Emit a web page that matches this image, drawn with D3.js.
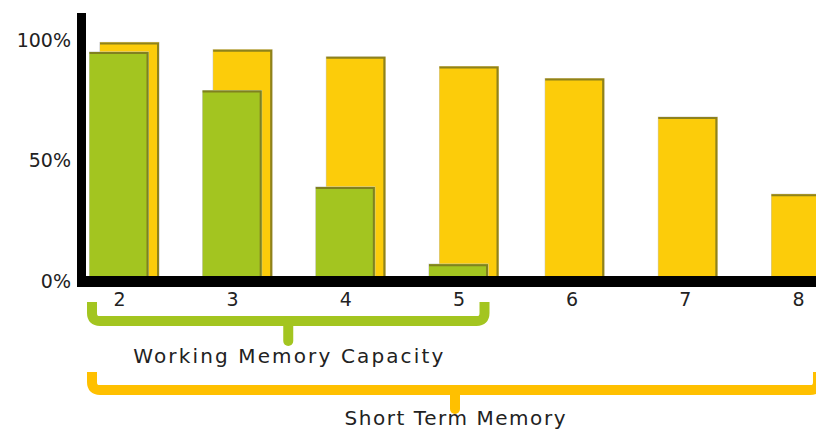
<!DOCTYPE html>
<html><head><meta charset="utf-8">
<script src="https://d3js.org/d3.v7.min.js"></script>
<style>html,body{margin:0;padding:0;background:#fff;overflow:hidden}</style>
</head><body>
<svg id="c" width="816" height="432"></svg>
<script>
const categories = ["2","3","4","5","6","7","8"];
const shortTerm = [99, 96, 93, 89, 84, 68, 36];
const working = [95, 79, 39, 7, null, null, null];
const yTicks = [0, 50, 100];
const groupLabels = ["Working Memory Capacity", "Short Term Memory"];

const svg = d3.select("#c");
const font = "'DejaVu Sans', sans-serif";
const x = d3.scalePoint().domain(categories).range([119, 798]);
const y = d3.scaleLinear().domain([0, 100]).range([281, 40]);

const GREEN = "#A3C520", YELLOW = "#FCCC0A";
const BRACE_G = "#A3C520", BRACE_Y = "#FFC000";
const bw = 59;

function drawBar(g, cx, v, fill) {
  const x0 = cx - bw / 2, y0 = y(v), h = y(0) - y0;
  g.append("rect").attr("x", x0 - 0.5).attr("y", y0 - 0.5).attr("width", bw + 1).attr("height", h + 1)
    .attr("fill", "#c8c8c8");
  g.append("rect").attr("x", x0).attr("y", y0).attr("width", bw).attr("height", h).attr("fill", fill);
  g.append("path").attr("d", `M${x0},${y0 + 1}H${x0 + bw - 1}V${y0 + h}`)
    .attr("fill", "none").attr("stroke", "#7a7420").attr("stroke-width", 2).attr("opacity", 0.85);
}

const bars = svg.append("g");
categories.forEach((c, i) => {
  const off = working[i] != null ? 10.5 : 3;
  drawBar(bars, x(c) + off, shortTerm[i], YELLOW);
});
categories.forEach((c, i) => {
  if (working[i] != null) drawBar(bars, x(c), working[i], GREEN);
});

// axes lines
svg.append("rect").attr("x", 77).attr("y", 13).attr("width", 9).attr("height", y(0) + 6 - 13).attr("fill", "#000");
svg.append("rect").attr("x", 81).attr("y", y(0) - 5).attr("width", 816 - 81).attr("height", 11).attr("fill", "#000");

// y axis labels
const ya = svg.append("g").attr("transform", "translate(71,0)")
  .call(d3.axisLeft(y).tickValues(yTicks).tickFormat(d => d + "%").tickSize(0).tickPadding(0));
ya.select(".domain").remove();
ya.selectAll("text").attr("font-family", font).attr("font-size", 19).attr("fill", "#222");

// x axis labels
const xa = svg.append("g").attr("transform", `translate(0,${y(0) + 7})`)
  .call(d3.axisBottom(x).tickSize(0).tickPadding(4));
xa.select(".domain").remove();
xa.selectAll("text").attr("font-family", font).attr("font-size", 19).attr("fill", "#222").attr("dy", "0.75em");

// braces
function brace(x1, x2, yTop, yMid, yTip, color) {
  const r = 8, cx = (x1 + x2) / 2;
  svg.append("path")
    .attr("d", `M${x1},${yTop}V${yMid - r}Q${x1},${yMid} ${x1 + r},${yMid}H${x2 - r}Q${x2},${yMid} ${x2},${yMid - r}V${yTop}`)
    .attr("fill", "none").attr("stroke", color).attr("stroke-width", 10).attr("stroke-linecap", "butt");
  svg.append("path").attr("d", `M${cx},${yMid}V${yTip}`)
    .attr("stroke", color).attr("stroke-width", 10).attr("stroke-linecap", "round");
  return cx;
}
const gx1 = x(categories[0]) - 27, gx2 = x(categories[3]) + 26;
const gc = brace(gx1, gx2, 302, 321, 341, BRACE_G);
const yc = brace(gx1, 818, 372, 390, 409, BRACE_Y);

svg.append("text").attr("x", gc).attr("y", 363).attr("text-anchor", "middle")
  .attr("font-family", font).attr("font-size", 20).attr("fill", "#222")
  .attr("textLength", 310).attr("lengthAdjust", "spacing").text(groupLabels[0]);
svg.append("text").attr("x", yc).attr("y", 425).attr("text-anchor", "middle")
  .attr("font-family", font).attr("font-size", 20).attr("fill", "#222")
  .attr("textLength", 221).attr("lengthAdjust", "spacing").text(groupLabels[1]);
</script>
</body></html>
